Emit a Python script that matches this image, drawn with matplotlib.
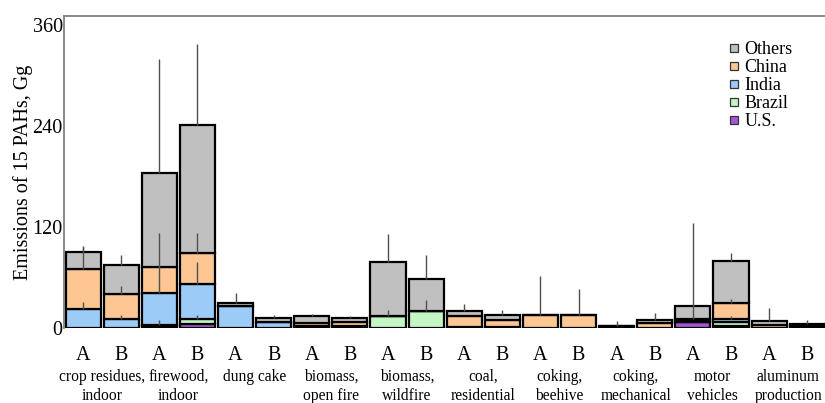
import numpy as np
import matplotlib
matplotlib.use("Agg")
import matplotlib.pyplot as plt
from matplotlib.lines import Line2D
from matplotlib.transforms import blended_transform_factory, ScaledTranslation

plt.rcParams['font.family'] = ['Liberation Serif', 'DejaVu Serif']

# sources, two estimates (A, B) each
sources = ["crop residues,\nindoor", "firewood,\nindoor", "dung cake",
           "biomass,\nopen fire", "biomass,\nwildfire", "coal,\nresidential",
           "coking,\nbeehive", "coking,\nmechanical", "motor\nvehicles",
           "aluminum\nproduction"]
versions = ["A", "B"]

# stacked emissions, Gg (bottom to top: U.S., Brazil, India, China, Others)
us     = [0, 0, 2, 5, 0, 0, 0, 0, 0, 0, 0, 0, 0, 0, 0, 0, 7, 3, 0, 0]
brazil = [0, 0, 2, 6, 0, 0, 0, 0, 14.6, 19.7, 0, 0, 0, 0, 0, 0, 0, 4, 0, 0]
india  = [22.5, 11, 38, 41.9, 25.7, 7.4, 2.2, 3, 0, 0, 1.2, 1.2, 0, 0, 0, 0, 1.5, 4, 0, 0]
china  = [48.3, 29, 30.7, 35.9, 0, 0, 3.5, 4, 0, 0, 12.6, 8.6, 15.8, 15.8, 3, 5.7, 2.5, 19.1, 3.8, 2]
others = [19.2, 34.4, 111.7, 153.1, 4.4, 4.8, 8.1, 5.2, 64.1, 38.3, 6.3, 5.2, 0, 0, 0, 4.1, 14.7, 49.4, 4.3, 3]

# upper uncertainty of each layer
us_err     = [0] * 20
brazil_err = [0, 0, 6, 4, 0, 0, 0, 0, 7.2, 13.2, 0, 0, 0, 0, 0, 0, 0, 0, 0, 0]
india_err  = [9, 4, 33, 25.8, 0, 0, 0, 0, 0, 0, 0, 0, 0, 0, 0, 0, 0, 2.8, 0, 0]
china_err  = [25, 9.5, 40.3, 24.6, 0, 0, 0, 0, 0, 0, 0, 0, 45.8, 30.2, 5.1, 0, 114, 4.9, 0, 0]
others_err = [8, 12.3, 135.6, 96, 11.5, 2.8, 3.2, 2.4, 33.1, 28.7, 8, 6.8, 0, 0, 0, 7.9, 0, 10, 16.1, 4.8]

layers = [("U.S.", us, us_err, "#a455d8"),
          ("Brazil", brazil, brazil_err, "#c4f5c4"),
          ("India", india, india_err, "#9ccbf7"),
          ("China", china, china_err, "#fdc692"),
          ("Others", others, others_err, "#c0c0c0")]

fig = plt.figure(figsize=(8.25, 4.03), dpi=100)
ax = fig.add_axes([0.0776, 0.186, 0.924, 0.774])

x = np.arange(len(us))
bottom = np.zeros(len(x))
for name, vals, err, col in layers:
    vals = np.array(vals, dtype=float)
    ax.bar(x, vals, width=0.92, bottom=bottom, color=col,
           edgecolor="black", linewidth=1.6, zorder=2)
    top = bottom + vals
    err = np.array(err, dtype=float)
    m = err > 0
    ax.vlines(x[m], top[m], top[m] + err[m], color="#505050", lw=1.0, zorder=3)
    bottom = top

ax.set_xlim(-0.5, 19.5)
ax.set_ylim(0, 371)
ax.set_yticks([0, 120, 240, 360])
ax.set_xticks(x)
ax.set_xticklabels(versions * len(sources))
ax.tick_params(axis="x", length=0, pad=13, labelsize=14.5)
ax.tick_params(axis="y", length=0, pad=1, labelsize=14.5)

for s in ["right", "bottom"]:
    ax.spines[s].set_visible(False)
for s in ["top", "left"]:
    ax.spines[s].set_color("#808080")
    ax.spines[s].set_linewidth(1.3)

ax.set_ylabel("Emissions of 15 PAHs, Gg", fontsize=14.5)
ax.yaxis.set_label_coords(-0.041, 0.5)

# source names under each A/B pair
trans = blended_transform_factory(ax.transData, ax.transAxes) + \
    ScaledTranslation(0, -0.41, fig.dpi_scale_trans)
for i, name in enumerate(sources):
    ax.text(2 * i + 0.5, 0, name, transform=trans, ha="center", va="top",
            fontsize=11.2, linespacing=1.27)

handles = [Line2D([], [], marker="s", ls="", markersize=5.5,
                  markerfacecolor=col, markeredgecolor="#333333",
                  markeredgewidth=0.9)
           for name, vals, err, col in layers[::-1]]
labels = [name for name, vals, err, col in layers[::-1]]
fig.legend(handles, labels, loc="upper left", bbox_to_anchor=(0.872, 0.915),
           frameon=False, fontsize=13, handlelength=0.8, handletextpad=0.2,
           labelspacing=0.05, borderaxespad=0)

fig.savefig("out.png", dpi=100)
